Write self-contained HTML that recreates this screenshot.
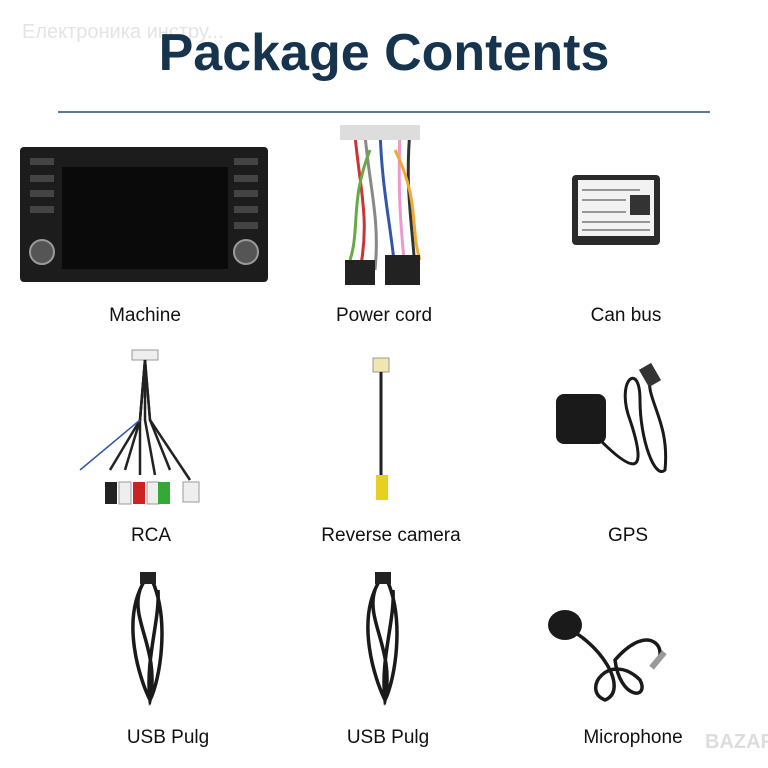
<!DOCTYPE html>
<html><head><meta charset="utf-8"><style>
html,body{margin:0;padding:0;background:#fff;}
svg{display:block;}
text{font-family:"Liberation Sans","DejaVu Sans",sans-serif;}
</style></head><body>
<svg width="768" height="768" viewBox="0 0 768 768" xmlns="http://www.w3.org/2000/svg">
<rect width="768" height="768" fill="#fff"/>
<text x="22" y="38" font-size="20" fill="#e4e4e4">Електроника инстру...</text>
<text x="384" y="70" font-size="52" font-weight="bold" fill="#17344f" text-anchor="middle">Package Contents</text>
<line x1="58" y1="112" x2="710" y2="112" stroke="#2a4a6a" stroke-width="1.5"/>

<!-- Machine -->
<rect x="20" y="147" width="248" height="135" rx="4" fill="#1c1c1c"/>
<rect x="62" y="167" width="166" height="102" fill="#0a0a0a"/>
<circle cx="42" cy="252" r="12" fill="#555" stroke="#999" stroke-width="2"/>
<circle cx="246" cy="252" r="12" fill="#555" stroke="#999" stroke-width="2"/>
<g fill="#444"><rect x="30" y="158" width="24" height="7"/><rect x="30" y="175" width="24" height="7"/><rect x="30" y="190" width="24" height="7"/><rect x="30" y="206" width="24" height="7"/>
<rect x="234" y="158" width="24" height="7"/><rect x="234" y="175" width="24" height="7"/><rect x="234" y="190" width="24" height="7"/><rect x="234" y="206" width="24" height="7"/><rect x="234" y="222" width="24" height="7"/></g>

<!-- Power cord -->
<g stroke-width="3" fill="none">
<path d="M355 135 C360 190 370 220 360 270" stroke="#c33"/>
<path d="M365 135 C370 190 380 220 375 270" stroke="#888"/>
<path d="M380 130 C382 190 390 220 395 270" stroke="#35a"/>
<path d="M400 130 C398 190 400 220 405 270" stroke="#e9c"/>
<path d="M410 130 C405 190 412 220 415 270" stroke="#333"/>
<path d="M370 150 C350 200 360 230 350 260" stroke="#6a4"/>
<path d="M395 150 C420 200 410 230 420 260" stroke="#ea3"/>
</g>
<rect x="340" y="125" width="80" height="15" fill="#ddd"/>
<rect x="345" y="260" width="30" height="25" fill="#222"/><rect x="385" y="255" width="35" height="30" fill="#222"/>

<!-- Can bus -->
<rect x="572" y="175" width="88" height="70" rx="4" fill="#2a2a2a"/>
<rect x="578" y="180" width="76" height="56" fill="#f2f2f2"/>
<rect x="630" y="195" width="20" height="20" fill="#333"/>
<g stroke="#777" stroke-width="1.5"><line x1="582" y1="190" x2="640" y2="190"/><line x1="582" y1="200" x2="626" y2="200"/><line x1="582" y1="212" x2="626" y2="212"/><line x1="582" y1="222" x2="650" y2="222"/><line x1="582" y1="230" x2="650" y2="230"/></g>

<!-- RCA -->
<rect x="132" y="350" width="26" height="10" fill="#eee" stroke="#999"/>
<g stroke="#222" stroke-width="2.5" fill="none">
<path d="M145 360 L140 420 L110 470"/><path d="M145 360 L140 420 L125 470"/><path d="M145 360 L140 420 L140 475"/>
<path d="M145 360 L145 420 L155 475"/><path d="M145 360 L150 420 L170 470"/><path d="M145 360 L150 420 L190 480"/>
<path d="M140 420 L80 470" stroke="#35a" stroke-width="1.5"/>
</g>
<g><rect x="105" y="482" width="12" height="22" fill="#222"/><rect x="119" y="482" width="12" height="22" fill="#eee" stroke="#999"/><rect x="133" y="482" width="12" height="22" fill="#c22"/><rect x="147" y="482" width="12" height="22" fill="#eee" stroke="#999"/><rect x="158" y="482" width="12" height="22" fill="#3a3"/><rect x="183" y="482" width="16" height="20" fill="#eee" stroke="#999"/></g>

<!-- Reverse camera -->
<rect x="373" y="358" width="16" height="14" fill="#f0e6b0" stroke="#999"/>
<path d="M381 372 L381 475" stroke="#222" stroke-width="3"/>
<rect x="376" y="475" width="12" height="25" fill="#e8d020"/>

<!-- GPS -->
<rect x="556" y="394" width="50" height="50" rx="8" fill="#1a1a1a"/>
<path d="M600 440 C630 470 650 480 630 420 C615 380 640 360 640 400 C640 440 655 480 665 470 C670 420 645 400 650 375" stroke="#1a1a1a" stroke-width="3" fill="none"/>
<rect x="643" y="365" width="14" height="20" fill="#333" transform="rotate(-30 650 375)"/>

<!-- USB 1 -->
<g stroke="#1a1a1a" stroke-width="3.5" fill="none">
<path d="M145 580 C120 620 140 680 150 700 C160 650 130 620 140 590 M152 580 C170 620 160 680 150 700 C145 660 160 620 158 590"/>
<path d="M380 580 C355 620 375 680 385 700 C395 650 365 620 375 590 M387 580 C405 620 395 680 385 700 C380 660 395 620 393 590"/>
<path d="M560 625 C600 640 630 690 605 700 C580 690 610 650 640 680 C650 700 620 700 615 660 C650 620 670 650 655 665"/>
</g>
<rect x="140" y="572" width="16" height="12" fill="#222"/><rect x="375" y="572" width="16" height="12" fill="#222"/>
<ellipse cx="565" cy="625" rx="17" ry="15" fill="#1a1a1a"/>
<rect x="655" y="650" width="6" height="20" fill="#999" transform="rotate(40 658 660)"/>

<g font-size="19" fill="#111" text-anchor="middle" font-weight="500">
<text x="145" y="321">Machine</text><text x="384" y="321">Power cord</text><text x="626" y="321">Can bus</text>
<text x="151" y="541">RCA</text><text x="391" y="541">Reverse camera</text><text x="628" y="541">GPS</text>
<text x="168" y="743">USB Pulg</text><text x="388" y="743">USB Pulg</text><text x="633" y="743">Microphone</text>
</g>
<text x="740" y="748" font-size="20" font-weight="bold" fill="#ddd" text-anchor="middle">BAZAR</text>
</svg>
</body></html>
